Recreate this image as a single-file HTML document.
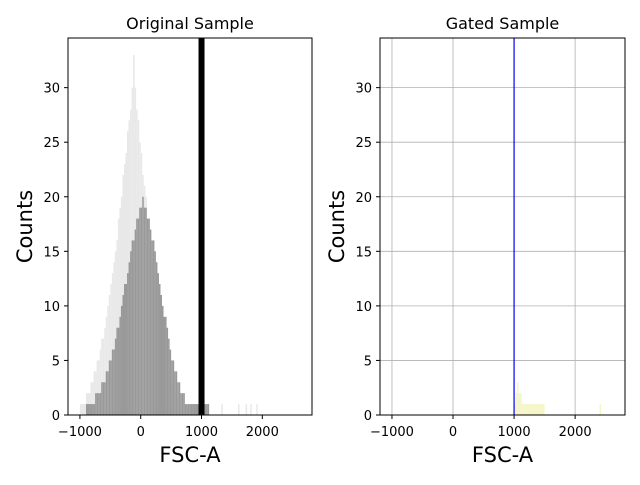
<!DOCTYPE html>
<html><head><meta charset="utf-8"><style>
body{margin:0;background:#fff}
svg text{font-family:"DejaVu Sans","Liberation Sans",sans-serif;fill:#000}
</style></head><body>
<svg id="c" width="640" height="480" viewBox="0 0 640 480" xmlns="http://www.w3.org/2000/svg"></svg>
<script>
// data
const binWidth = 25;
const darkStart = -900;
const darkCounts = [1,1,1,1,1,1,2,2,2,2,3,3,3,4,4,5,5,6,6,7,8,8,9,10,11,12,12,13,14,15,16,16,17,18,18,19,19,20,19,19,18,18,17,16,16,15,14,13,12,11,10,9,9,8,7,6,5,5,4,4,3,3,2,2,2,1,1,1,1,1,1,1,1,1,1,1,1,1,1,1,1];
const lightStart = -1000;
const lightCounts = [1,1,1,1,2,2,2,3,3,4,4,5,5,6,7,7,8,9,10,11,12,13,14,15,16,18,19,20,22,23,24,26,27,28,30,33,30,28,27,25,24,22,21,20,18,17,15,14,13,12,11,10,9,8,7,6,5,5,4,4,3,3,3,2,2,2,2,2,2,1,1,1,1,1,1,1,1,1,1,1,1,0,0,0,1,0,0,0,0,0,0,0,0,1,0,0,0,0,0,0,0,0,0,0,1,0,0,0,0,1,0,0,1,0,0,0,1,0,0,0];
const gatedStart = 1000;
const gatedCounts = [1,2,3,2,2,1,1,1,1,1,1,1,1,1,1,1,1,1,1,1,0,0,0,0,0,0,0,0,0,0,0,0,0,0,0,0,0,0,0,0,0,0,0,0,0,0,0,0,0,0,0,0,0,0,0,0,1,0];
const gateValue = 1000;
const xTicks = [-1000,0,1000,2000];
const yTicks = [0,5,10,15,20,25,30];

const svg = document.getElementById('c');
const NS = 'http://www.w3.org/2000/svg';
function mk(tag, attrs, parent){const e=document.createElementNS(NS,tag);for(const k in attrs)e.setAttribute(k,attrs[k]);(parent||svg).appendChild(e);return e;}

function panel(x0, x1, title, grid, drawFn){
  const y0=38, y1=415;
  const xs=v=>x0+(v-(-1196))/(2817-(-1196))*(x1-x0);
  const ys=v=>y1-v/34.55*(y1-y0);
  const g=mk('g',{});
  
  
  if(grid){
    xTicks.forEach(t=>mk('line',{x1:xs(t),x2:xs(t),y1:y0,y2:y1,stroke:'#b0b0b0','stroke-width':0.8},g));
    yTicks.forEach(t=>mk('line',{x1:x0,x2:x1,y1:ys(t),y2:ys(t),stroke:'#b0b0b0','stroke-width':0.8},g));
  }
  drawFn(g,xs,ys);
  const fr=mk('rect',{x:x0,y:y0,width:x1-x0,height:y1-y0,fill:'none',stroke:'#000','stroke-width':1},g);
  
  
  xTicks.forEach(t=>{
    mk('line',{x1:xs(t),x2:xs(t),y1:y1,y2:y1+4,stroke:'#000'},g);
    const tx=mk('text',{x:xs(t),y:y1+21,'text-anchor':'middle','font-size':13},g);
    tx.textContent=(t<0?'\u2212'+(-t):t);
    
    
  });
  yTicks.forEach(t=>{
    mk('line',{x1:x0-4,x2:x0,y1:ys(t),y2:ys(t),stroke:'#000'},g);
    const tx=mk('text',{x:x0-8,y:ys(t)+5,'text-anchor':'end','font-size':13},g);
    tx.textContent=t;
    
    
  });
  const tt=mk('text',{x:(x0+x1)/2,y:29,'text-anchor':'middle','font-size':16},g);
  tt.textContent=title;
  
  
  const xl=mk('text',{x:(x0+x1)/2,y:462,'text-anchor':'middle','font-size':21},g);
  xl.textContent='FSC-A';
  
  
  const yl=mk('text',{x:0,y:0,'text-anchor':'middle','font-size':21,transform:`translate(${x0-36},${(y0+y1)/2}) rotate(-90)`},g);
  yl.textContent='Counts';
  
  
}

panel(68,312,'Original Sample',false,(g,xs,ys)=>{
  lightCounts.forEach((c,i)=>{
    if(!c)return;
    const a=lightStart+i*binWidth;
    const r=mk('rect',{x:xs(a),y:ys(c),width:xs(a+binWidth)-xs(a),height:ys(0)-ys(c),fill:'#e8e8e8'},g);
    
    
  });
  darkCounts.forEach((c,i)=>{
    if(!c)return;
    const a=darkStart+i*binWidth;
    const r=mk('rect',{x:xs(a),y:ys(c),width:xs(a+binWidth)-xs(a),height:ys(0)-ys(c),fill:'#999999'},g);
    
    
  });
  const l=mk('line',{x1:xs(gateValue),x2:xs(gateValue),y1:38,y2:415,stroke:'#000','stroke-width':6},g);
  
  
});

panel(380,625,'Gated Sample',true,(g,xs,ys)=>{
  gatedCounts.forEach((c,i)=>{
    if(!c)return;
    const a=gatedStart+i*binWidth;
    const r=mk('rect',{x:xs(a),y:ys(c),width:xs(a+binWidth)-xs(a),height:ys(0)-ys(c),fill:'#f5f5c8'},g);
    
    
  });
  const l=mk('line',{x1:xs(gateValue),x2:xs(gateValue),y1:38,y2:415,stroke:'#0000ff','stroke-width':1.2},g);
  
  
});
</script>
</body></html>
